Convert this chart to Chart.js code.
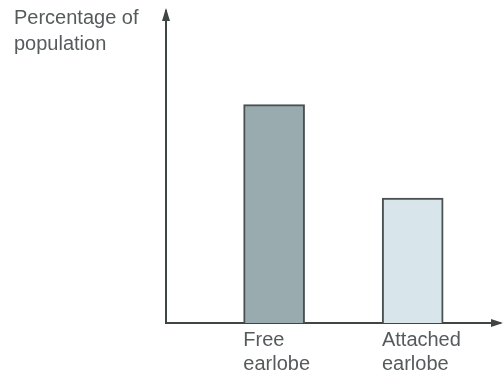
<!DOCTYPE html>
<html>
<head>
<meta charset="utf-8">
<script src="https://cdn.jsdelivr.net/npm/chart.js@4"></script>
<style>
  html, body { margin: 0; padding: 0; background: #fff; }
  #wrap { width: 504px; height: 376px; position: relative; }
</style>
</head>
<body>
<div id="wrap"><canvas id="grafica"></canvas></div>
<script>
// datos de la grafica
var categorias = [["Free", "earlobe"], ["Attached", "earlobe"]];
var posiciones = [1, 2];
var porcentajes = [70, 40];
var titulo = ["Percentage of", "population"];

var colorEje = "#3f4444";
var colorTexto = "#555b5c";

// flechas de los ejes y el titulo arriba a la izquierda
var flechas = {
    id: "flechas",
    afterDraw: function(chart) {
        var ctx = chart.ctx;
        var a = chart.chartArea;
        ctx.save();
        ctx.fillStyle = colorEje;
        // flecha eje y
        ctx.beginPath();
        ctx.moveTo(a.left, a.top - 3);
        ctx.lineTo(a.left - 4, a.top + 10);
        ctx.lineTo(a.left + 4, a.top + 10);
        ctx.closePath();
        ctx.fill();
        // flecha eje x
        ctx.beginPath();
        ctx.moveTo(a.right + 3, a.bottom);
        ctx.lineTo(a.right - 9, a.bottom - 4);
        ctx.lineTo(a.right - 9, a.bottom + 4);
        ctx.closePath();
        ctx.fill();
        // titulo
        ctx.fillStyle = colorTexto;
        ctx.font = "20px 'Liberation Sans', Arial, sans-serif";
        ctx.textAlign = "left";
        ctx.textBaseline = "alphabetic";
        ctx.fillText(titulo[0], 14, 24);
        ctx.fillText(titulo[1], 14, 50);
        ctx.restore();
    }
};

var datos = posiciones.map(function(x, i) {
    return { x: x, y: porcentajes[i] };
});

var config = {
    type: "bar",
    data: {
        datasets: [{
            data: datos,
            backgroundColor: ["#9aabb0", "#d8e6ec"],
            borderColor: "#4a5052",
            borderWidth: 2,
            borderSkipped: "bottom",
            barThickness: 61
        }]
    },
    options: {
        responsive: true,
        maintainAspectRatio: false,
        animation: false,
        layout: { padding: { top: 11, right: 4, left: 0, bottom: -5 } },
        plugins: {
            legend: { display: false },
            tooltip: { enabled: false }
        },
        scales: {
            x: {
                type: "linear",
                offset: false,
                min: 0.22,
                max: 2.63,
                grid: { display: false, drawTicks: false },
                border: { display: true, color: colorEje, width: 2 },
                afterBuildTicks: function(scale) {
                    // etiquetas alineadas con el borde izquierdo de cada barra
                    scale.ticks = posiciones.map(function(p) { return { value: p - 0.222 }; });
                },
                ticks: {
                    align: "start",
                    padding: 5,
                    color: colorTexto,
                    font: { family: "'Liberation Sans', Arial, sans-serif", size: 20, lineHeight: 1.2 },
                    maxRotation: 0,
                    autoSkip: false,
                    callback: function(v, i) { return categorias[i]; }
                }
            },
            y: {
                min: 0,
                max: 100,
                grid: { display: false, drawTicks: false },
                border: { display: true, color: colorEje, width: 2 },
                ticks: { display: false },
                afterFit: function(scale) { scale.width = 166; }
            }
        }
    },
    plugins: [flechas]
};

new Chart(document.getElementById("grafica").getContext("2d"), config);
</script>
</body>
</html>
